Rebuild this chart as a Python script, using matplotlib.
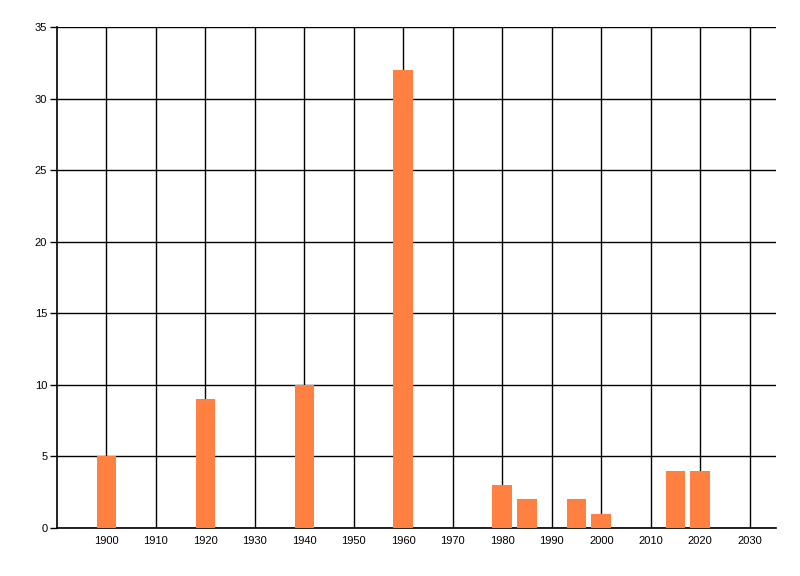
import matplotlib
matplotlib.use("Agg")
import matplotlib.pyplot as plt

# Data
years = [1900, 1920, 1940, 1960, 1980, 1985, 1995, 2000, 2015, 2020]
counts = [5, 9, 10, 32, 3, 2, 2, 1, 4, 4]
x_ticks = list(range(1900, 2031, 10))
y_ticks = list(range(0, 36, 5))

plt.rcParams["font.family"] = ["Liberation Sans", "DejaVu Sans"]

fig = plt.figure(figsize=(8, 5.76), dpi=100)
ax = fig.add_axes([57 / 800, 1 - 528 / 576, (776 - 57) / 800, (528 - 27) / 576])

ax.bar(years, counts, width=4, color="#FF8040", zorder=3)

ax.set_xlim(1890, 2035.3)
ax.set_ylim(0, 35)
ax.set_xticks(x_ticks)
ax.set_yticks(y_ticks)

ax.grid(True, color="black", linewidth=1, zorder=0)
ax.set_axisbelow(True)

for side in ["top", "right"]:
    ax.spines[side].set_visible(False)
for side in ["left", "bottom"]:
    ax.spines[side].set_linewidth(1.2)

ax.tick_params(axis="y", length=5, width=1, labelsize=8, pad=2)
ax.tick_params(axis="x", length=0, labelsize=8, pad=6)

fig.savefig("out.png", dpi=100)
